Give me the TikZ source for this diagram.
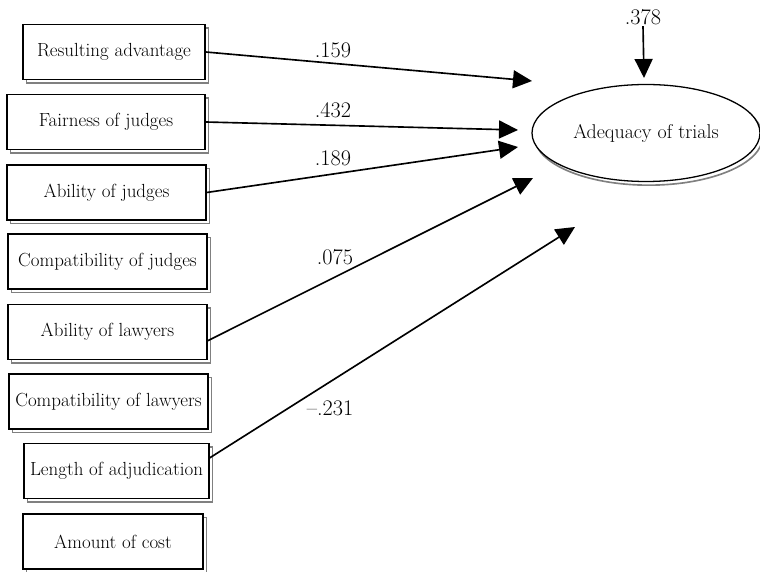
\documentclass[tikz,border=0pt]{standalone}
\usetikzlibrary{arrows.meta,shapes.geometric,shadows}

\begin{document}
\begin{tikzpicture}[x=0.03cm,y=-0.03cm,
    observed/.style={draw, fill=white, line width=1.1pt, minimum height=1.65cm, inner sep=0pt,
        font=\fontsize{16.2}{19}\selectfont,
        copy shadow={shadow xshift=0.11cm, shadow yshift=-0.11cm, draw=black!50, fill=white, line width=1.2pt}},
    latent/.style={ellipse, draw, fill=white, line width=1.1pt, minimum width=6.84cm, minimum height=2.91cm,
        font=\fontsize{17}{20}\selectfont,
        copy shadow={shadow xshift=0.08cm, shadow yshift=-0.11cm, draw=black!50, fill=white, line width=1.4pt}},
    coef/.style={font=\fontsize{19}{22}\selectfont, inner sep=1pt},
    path/.style={-{Triangle[length=0.57cm,width=0.54cm]}, line width=1.4pt}]
%\draw [help lines] (0,0) grid (760,572);
    \useasboundingbox (0,0) rectangle (760,572);
    \node[observed, minimum width=5.46cm] (adv) at (114,52) {Resulting advantage};
    \node[observed, minimum width=5.94cm] (fair) at (106,122) {Fairness of judges};
    \node[observed, minimum width=5.97cm] (abij) at (106.5,192.5) {Ability of judges};
    \node[observed, minimum width=5.97cm] (comj) at (107.5,261.5) {Compatibility of judges};
    \node[observed, minimum width=5.97cm] (abil) at (107.5,332) {Ability of lawyers};
    \node[observed, minimum width=5.97cm] (coml) at (108.5,401.5) {Compatibility of lawyers};
    \node[observed, minimum width=5.55cm] (len) at (116.5,471) {Length of adjudication};
    \node[observed, minimum width=5.4cm] (cost) at (113,541.5) {Amount of cost};
    \node[latent] (trial) at (646,133) {Adequacy of trials};
    \node[coef] (err) at (643,17) {.378};
    \coordinate (t0) at (644,78);
    \coordinate (t1) at (532,81);
    \coordinate (t2) at (518,130);
    \coordinate (t3) at (518,147);
    \coordinate (t4) at (533,178);
    \coordinate (t5) at (575,227);
    \draw[path] (err.south) -- (t0);
    \draw[path] (adv.east) -- (t1);
    \draw[path] (fair.east) -- (t2);
    \draw[path] (abij.east) -- (t3);
    \draw[path] (abil.-5) -- (t4);
    \draw[path] (len.8) -- (t5);
    \node[coef] (c1) at (333,50) {.159};
    \node[coef] (c2) at (333,110) {.432};
    \node[coef] (c3) at (333,158) {.189};
    \node[coef] (c4) at (335,257) {.075};
    \node[coef] (c5) at (330,408) {--.231};
\end{tikzpicture}
\end{document}
